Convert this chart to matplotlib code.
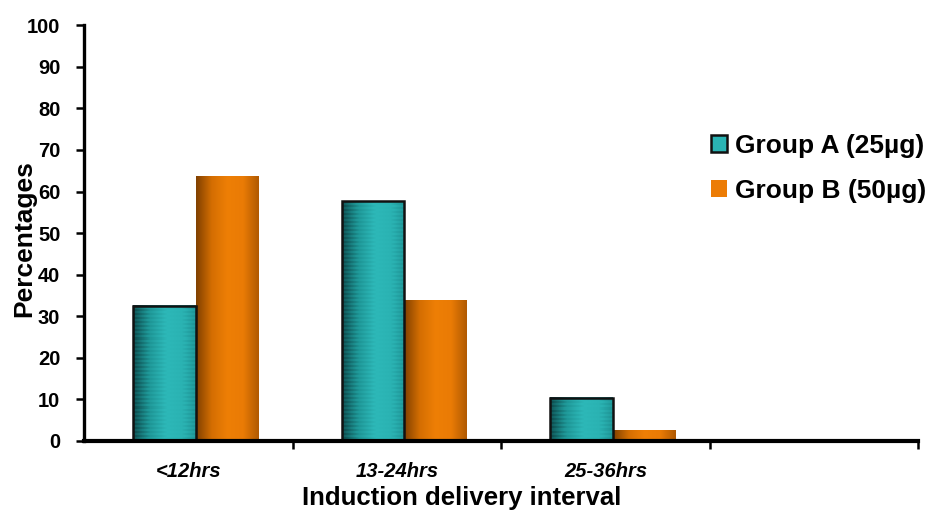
import numpy as np
import matplotlib
matplotlib.use("Agg")
import matplotlib.pyplot as plt
from matplotlib.colors import LinearSegmentedColormap
from matplotlib.patches import Patch

categories = ["<12hrs", "13-24hrs", "25-36hrs", ""]
group_a = [32.5, 57.7, 10.4, 0]
group_b = [63.5, 33.9, 2.6, 0]
series_names = ["Group A (25\u00b5g)", "Group B (50\u00b5g)"]
y_ticks = list(range(0, 101, 10))

plt.rcParams["font.family"] = ["Liberation Sans", "DejaVu Sans"]

fig = plt.figure(figsize=(9.28, 5.15), dpi=100)
ax = fig.add_axes([0.0905, 0.1437, 0.899, 0.8073])

x = np.arange(len(categories)) + 0.5
w = 0.3
shift = 0.035

teal_cmap = LinearSegmentedColormap.from_list(
    "teal", ["#0b4547", "#1e9696", "#2db8b8", "#2ab2b2", "#1a8a8c"])
orange_cmap = LinearSegmentedColormap.from_list(
    "orange", ["#804000", "#d46e02", "#ee7f06", "#ea7b05", "#b05a02"])

bars_a = ax.bar(x + shift - w / 2, group_a, w, color="#2ab4b4", edgecolor="none", zorder=2)
bars_b = ax.bar(x + shift + w / 2, group_b, w, color="#ec7c05", edgecolor="none", zorder=2)

px_per_unit = 416 / 100.0
cols = np.linspace(0, 1, 256)
for bars, cmap, outline in ((bars_a, teal_cmap, True), (bars_b, orange_cmap, False)):
    for r in bars:
        h = r.get_height()
        if h <= 0:
            continue
        x0 = r.get_x()
        x1 = x0 + r.get_width()
        if outline:
            # fine horizontal banding across the teal columns
            nrows = max(2, int(h * px_per_unit / 2.0))
            band = 0.05 * (np.arange(nrows) % 2)[:, None]
            img = np.clip(cols[None, :] * 0.9 + band, 0, 1)
        else:
            img = cols[None, :]
        ax.imshow(img, extent=[x0, x1, 0, h], aspect="auto", cmap=cmap,
                  vmin=0, vmax=1, zorder=3,
                  interpolation="nearest" if outline else "bilinear")
        if outline:
            ax.plot([x0, x0, x1, x1], [0, h, h, 0], color="#111111", lw=1.8,
                    zorder=4, solid_joinstyle="miter")

ax.set_xlim(0, len(categories))
ax.set_ylim(0, 100)

ax.set_yticks(y_ticks)
ax.set_yticklabels([str(t) for t in y_ticks], fontsize=14.5, fontweight="bold")
ax.tick_params(axis="y", direction="out", length=6, width=1.8, pad=11)

ax.set_xticks(np.arange(1, len(categories) + 1))
ax.set_xticklabels([])
ax.tick_params(axis="x", direction="out", length=6, width=1.8)
ax.set_xticks(x, minor=True)
ax.set_xticklabels(categories, minor=True, fontsize=14.5, fontweight="bold",
                   fontstyle="italic")
ax.tick_params(axis="x", which="minor", length=0, pad=15)

for s in ("top", "right"):
    ax.spines[s].set_visible(False)
ax.spines["left"].set_linewidth(2.4)
ax.spines["bottom"].set_linewidth(3.0)
ax.spines["bottom"].set_zorder(5)

ax.set_ylabel("Percentages", fontsize=19, fontweight="bold")
ax.yaxis.set_label_coords(-0.057, 0.488)
ax.set_xlabel("Induction delivery interval", fontsize=18.5, fontweight="bold")
ax.xaxis.set_label_coords(0.453, -0.1085)

handles = [Patch(facecolor="#2ab4b4", edgecolor="#111111", linewidth=1.8),
           Patch(facecolor="#ec7c05", edgecolor="none")]
fig.legend(handles, series_names, loc="upper left",
           bbox_to_anchor=(711 / 928, 1 - 134 / 515),
           frameon=False, prop={"size": 19, "weight": "bold"},
           handlelength=0.62, handleheight=0.62, handletextpad=0.3,
           labelspacing=0.8, borderpad=0, borderaxespad=0)

fig.savefig("out.png", dpi=100)
